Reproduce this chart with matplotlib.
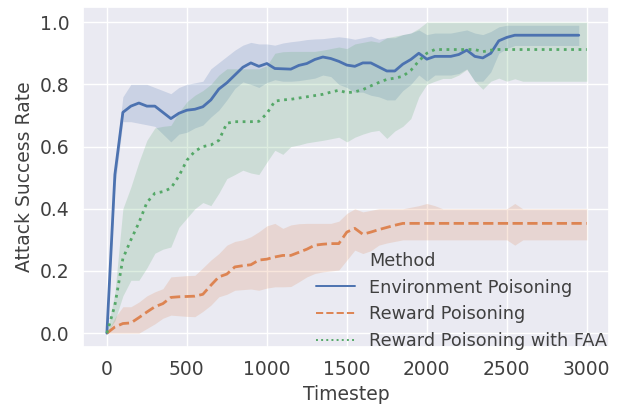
import numpy as np
import matplotlib
matplotlib.use('Agg')
import matplotlib.pyplot as plt
from matplotlib.lines import Line2D
import seaborn as sns

# timesteps
t_env = np.arange(0, 3000, 50)
t_rew = np.arange(0, 3050, 50)

# Environment Poisoning
env_mean = [0.0, 0.51, 0.71, 0.73, 0.74, 0.73, 0.73, 0.71, 0.69, 0.707,
            0.717, 0.72, 0.728, 0.75, 0.785, 0.805, 0.83, 0.855, 0.869, 0.858,
            0.867, 0.851, 0.85, 0.849, 0.861, 0.867, 0.88, 0.888, 0.883, 0.874,
            0.862, 0.858, 0.869, 0.869, 0.856, 0.843, 0.843, 0.865, 0.88, 0.90,
            0.881, 0.89, 0.89, 0.89, 0.896, 0.91, 0.89, 0.885, 0.90, 0.94,
            0.951, 0.958, 0.958, 0.958, 0.958, 0.958, 0.958, 0.958, 0.958, 0.958]
env_hi = [0.0, 0.54, 0.76, 0.80, 0.80, 0.80, 0.79, 0.78, 0.77, 0.79,
          0.80, 0.805, 0.81, 0.85, 0.87, 0.89, 0.91, 0.926, 0.935, 0.93,
          0.93, 0.926, 0.933, 0.937, 0.94, 0.944, 0.946, 0.947, 0.95, 0.953,
          0.95, 0.945, 0.95, 0.955, 0.945, 0.95, 0.95, 0.96, 0.965, 0.975,
          0.96, 0.965, 0.965, 0.965, 0.97, 0.975, 0.965, 0.96, 0.97, 0.985,
          0.99, 0.99, 0.99, 0.99, 0.99, 0.99, 0.99, 0.99, 0.99, 0.99]
env_lo = [0.0, 0.47, 0.68, 0.68, 0.675, 0.67, 0.665, 0.64, 0.615, 0.64,
          0.646, 0.66, 0.669, 0.695, 0.717, 0.75, 0.787, 0.808, 0.80, 0.79,
          0.806, 0.815, 0.81, 0.81, 0.812, 0.816, 0.82, 0.83, 0.825, 0.80,
          0.79, 0.775, 0.775, 0.765, 0.76, 0.75, 0.75, 0.78, 0.80, 0.83,
          0.81, 0.83, 0.83, 0.83, 0.835, 0.85, 0.81, 0.81, 0.84, 0.90,
          0.915, 0.925, 0.925, 0.925, 0.925, 0.925, 0.925, 0.925, 0.925, 0.925]

# Reward Poisoning
rew_mean = [0.0, 0.02, 0.031, 0.033, 0.05, 0.068, 0.085, 0.095, 0.115, 0.117,
            0.118, 0.119, 0.125, 0.154, 0.181, 0.19, 0.213, 0.217, 0.22, 0.235,
            0.238, 0.245, 0.25, 0.25, 0.26, 0.27, 0.283, 0.286, 0.288, 0.288,
            0.325, 0.337, 0.318, 0.325, 0.333, 0.34, 0.347, 0.353, 0.353, 0.353,
            0.353, 0.353, 0.353, 0.353, 0.353, 0.353, 0.353, 0.353, 0.353, 0.353,
            0.353, 0.353, 0.353, 0.353, 0.353, 0.353, 0.353, 0.353, 0.353, 0.353,
            0.353]
rew_hi = [0.0, 0.05, 0.085, 0.085, 0.10, 0.12, 0.133, 0.143, 0.181, 0.183,
          0.185, 0.186, 0.21, 0.235, 0.256, 0.283, 0.295, 0.30, 0.31, 0.326,
          0.345, 0.353, 0.337, 0.348, 0.352, 0.353, 0.353, 0.353, 0.353, 0.36,
          0.385, 0.40, 0.39, 0.395, 0.40, 0.40, 0.40, 0.40, 0.405, 0.41,
          0.417, 0.41, 0.40, 0.40, 0.40, 0.40, 0.40, 0.40, 0.40, 0.40,
          0.40, 0.417, 0.40, 0.40, 0.40, 0.40, 0.40, 0.40, 0.40, 0.40,
          0.40]
rew_lo = [0.0, 0.0, 0.0, 0.0, 0.0, 0.015, 0.03, 0.048, 0.058, 0.056,
          0.054, 0.053, 0.07, 0.09, 0.117, 0.125, 0.138, 0.14, 0.142, 0.138,
          0.145, 0.149, 0.149, 0.15, 0.165, 0.181, 0.192, 0.197, 0.20, 0.203,
          0.235, 0.267, 0.256, 0.265, 0.283, 0.29, 0.295, 0.30, 0.30, 0.30,
          0.30, 0.30, 0.30, 0.30, 0.30, 0.30, 0.30, 0.30, 0.30, 0.30,
          0.30, 0.283, 0.30, 0.30, 0.30, 0.30, 0.30, 0.30, 0.30, 0.30,
          0.30]

# Reward Poisoning with FAA
faa_mean = [0.0, 0.09, 0.24, 0.30, 0.355, 0.42, 0.45, 0.455, 0.466, 0.505,
            0.556, 0.585, 0.60, 0.605, 0.62, 0.675, 0.68, 0.68, 0.68, 0.681,
            0.706, 0.746, 0.75, 0.752, 0.756, 0.76, 0.764, 0.768, 0.775, 0.781,
            0.773, 0.776, 0.783, 0.795, 0.806, 0.816, 0.82, 0.826, 0.845, 0.875,
            0.90, 0.912, 0.912, 0.912, 0.912, 0.912, 0.912, 0.905, 0.91, 0.912,
            0.912, 0.912, 0.912, 0.912, 0.912, 0.912, 0.912, 0.912, 0.912, 0.912,
            0.912]
faa_hi = [0.0, 0.13, 0.40, 0.47, 0.55, 0.62, 0.66, 0.665, 0.668, 0.71,
          0.744, 0.765, 0.78, 0.80, 0.83, 0.85, 0.85, 0.85, 0.85, 0.85,
          0.86, 0.90, 0.905, 0.906, 0.906, 0.906, 0.906, 0.91, 0.915, 0.92,
          0.915, 0.93, 0.935, 0.94, 0.935, 0.95, 0.955, 0.96, 0.965, 0.98,
          1.0, 1.0, 1.0, 1.0, 1.0, 1.0, 1.0, 1.0, 1.0, 1.0,
          1.0, 1.0, 1.0, 1.0, 1.0, 1.0, 1.0, 1.0, 1.0, 1.0,
          1.0]
faa_lo = [0.0, 0.04, 0.12, 0.17, 0.17, 0.21, 0.257, 0.27, 0.277, 0.34,
          0.37, 0.40, 0.42, 0.41, 0.45, 0.497, 0.51, 0.524, 0.515, 0.51,
          0.55, 0.588, 0.575, 0.60, 0.605, 0.612, 0.616, 0.62, 0.625, 0.63,
          0.615, 0.63, 0.64, 0.648, 0.652, 0.626, 0.65, 0.665, 0.69, 0.76,
          0.80, 0.81, 0.819, 0.819, 0.83, 0.848, 0.81, 0.784, 0.81, 0.82,
          0.81, 0.818, 0.81, 0.81, 0.81, 0.81, 0.81, 0.81, 0.81, 0.81,
          0.81]

sns.set_theme(style='darkgrid')
plt.rcParams['font.family'] = ['DejaVu Sans']
txt = '0.25'
plt.rcParams['text.color'] = txt
plt.rcParams['axes.labelcolor'] = txt
plt.rcParams['xtick.color'] = txt
plt.rcParams['ytick.color'] = txt
pal = sns.color_palette('deep')

fig, ax = plt.subplots(figsize=(6.28, 4.07), dpi=100)
fig.subplots_adjust(left=0.132, right=0.970, bottom=0.147, top=0.983)

series = [
    ('Environment Poisoning', t_env, env_mean, env_lo, env_hi, pal[0], '-'),
    ('Reward Poisoning', t_rew, rew_mean, rew_lo, rew_hi, pal[1], '--'),
    ('Reward Poisoning with FAA', t_rew, faa_mean, faa_lo, faa_hi, pal[2], ':'),
]

handles = [Line2D([], [], color='none', label='Method')]
for name, t, m, lo, hi, c, ls in series:
    ax.fill_between(t, lo, hi, color=c, alpha=0.2, linewidth=0)
    ax.plot(t, m, color=c, linestyle=ls, linewidth=2.0)
    handles.append(Line2D([], [], color=c, linestyle=ls, linewidth=1.4, label=name))

ax.set_xlim(-150, 3140)
ax.set_ylim(-0.045, 1.049)
ax.set_xticks([0, 500, 1000, 1500, 2000, 2500, 3000])
ax.set_yticks([0.0, 0.2, 0.4, 0.6, 0.8, 1.0])
ax.tick_params(labelsize=13.5)
ax.set_xlabel('Timestep', fontsize=13.5)
ax.set_ylabel('Attack Success Rate', fontsize=13.5)

ax.legend(handles=handles, loc='lower right', frameon=False, fontsize=12.7,
          bbox_to_anchor=(1.012, -0.035), borderaxespad=0.1, handlelength=2.2)

plt.savefig('out.png', dpi=100)
plt.close()
